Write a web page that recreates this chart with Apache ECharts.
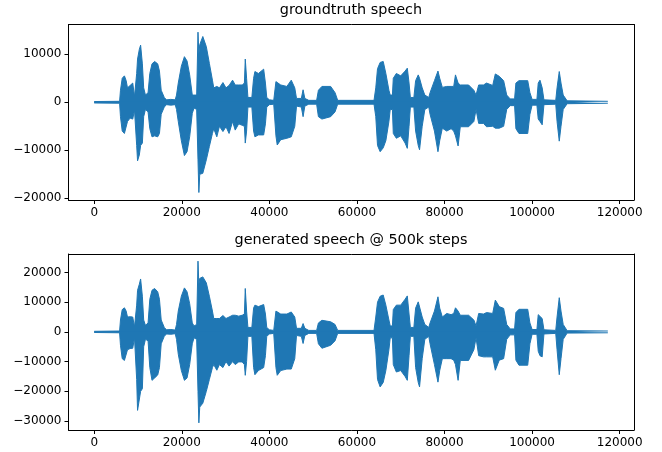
<!DOCTYPE html>
<html>
<head>
<meta charset="utf-8">
<script src="https://cdn.jsdelivr.net/npm/echarts@6/dist/echarts.min.js"></script>
<style>
  html, body { margin: 0; padding: 0; background: #fff; }
  #container { width: 662px; height: 452px; }
</style>
</head>
<body>
<div id="container"></div>
<script>
  var sampleX = [0, 5800, 6000, 6400, 6900, 7300, 7600, 8200, 8800, 9200, 9700, 9900, 10300, 10600, 11000, 11300, 11700, 12300, 12700, 13200, 13800, 14500, 14900, 15300, 16000, 16500, 17500, 18500, 18800, 19200, 19900, 20600, 21200, 21800, 22400, 22800, 23400, 23700, 23900, 24100, 24800, 25600, 26300, 27000, 27300, 28000, 28600, 29400, 30100, 30800, 31600, 32200, 33000, 33800, 34300, 34500, 34800, 35100, 36000, 36400, 36700, 37500, 38700, 39100, 39400, 40000, 41000, 41500, 41800, 42600, 44000, 45000, 45800, 46200, 47300, 47700, 48100, 49000, 50800, 51200, 52000, 54000, 55000, 55600, 63900, 64300, 64700, 65300, 66000, 66600, 67300, 67600, 68100, 68300, 69000, 70000, 71000, 71500, 71900, 72200, 73000, 73400, 74000, 74300, 74900, 75500, 76400, 76700, 77700, 78500, 78900, 79500, 80500, 81500, 82100, 82500, 83100, 83600, 85500, 86700, 87200, 87800, 88900, 89600, 91000, 91600, 92500, 93500, 94200, 95000, 96000, 96300, 97000, 99000, 99500, 100000, 101100, 101400, 101800, 102300, 102700, 105400, 105700, 106200, 106600, 107100, 108000, 117300];

  // groundtruth: upper / lower envelope
  var gtHi = [150, 200, 2500, 5000, 5500, 4500, 3000, 3500, 4000, 1200, 6000, 9000, 11000, 11900, 8000, 3000, 1500, 2000, 6000, 8000, 8500, 8000, 6500, 2500, 1000, 500, 600, 500, 1500, 4000, 7500, 9500, 8600, 5700, 1500, 1200, 1500, 14600, 10000, 12000, 13700, 11600, 8100, 4600, 3000, 3300, 3000, 4100, 3000, 3500, 4600, 3600, 3600, 3600, 4000, 9000, 5000, 1000, 1000, 5000, 6400, 6000, 6900, 4000, 1000, 500, 400, 4300, 4000, 3600, 3300, 4600, 3000, 800, 800, 2600, 800, 400, 400, 2500, 3300, 3300, 2000, 400, 400, 3000, 7000, 8300, 8500, 6000, 2500, 1500, 1500, 5000, 6000, 5500, 6500, 7100, 4000, 1000, 1000, 4500, 5700, 5000, 3000, 1500, 1000, 2000, 4500, 6500, 5000, 3100, 3300, 3300, 3300, 5700, 4000, 3600, 3600, 2500, 1500, 3600, 3600, 4000, 3500, 5900, 5400, 4500, 1500, 700, 700, 4000, 4500, 4500, 2000, 600, 600, 4000, 4600, 3000, 500, 400, 3000, 6400, 4000, 1500, 300, 200];
  var gtLo = [-150, -200, -3000, -6000, -6500, -6800, -4000, -3300, -3500, -1600, -9000, -12200, -11000, -9000, -8500, -3000, -1500, -2000, -5500, -7200, -7000, -7200, -6500, -2500, -1000, -500, -600, -500, -1500, -4000, -8000, -11100, -10300, -7200, -2300, -1200, -1500, -12000, -18800, -15000, -14800, -12000, -9200, -6500, -5500, -7200, -5000, -6100, -5100, -6500, -4000, -5800, -4500, -4800, -5000, -8500, -6000, -1000, -1000, -6000, -7200, -6800, -6800, -4500, -1000, -500, -400, -7000, -8900, -7800, -7500, -7200, -5000, -800, -1000, -3000, -800, -400, -400, -3000, -3500, -3000, -2000, -400, -400, -3000, -9000, -10300, -9500, -8000, -4000, -1500, -1500, -6500, -7500, -7000, -8500, -9600, -5000, -1000, -1000, -6000, -9000, -9900, -5000, -1500, -1000, -2500, -6000, -10300, -8000, -5400, -6000, -5500, -6000, -7000, -9100, -5100, -5100, -4000, -1500, -4400, -4400, -5100, -5000, -5400, -5400, -5000, -1500, -700, -700, -5500, -6500, -6500, -2500, -600, -600, -3500, -4000, -4700, -500, -400, -4000, -8100, -5000, -1500, -300, -200];

  // generated @ 500k steps: upper / lower envelope
  var genHi = [200, 300, 4000, 7500, 8100, 7000, 5000, 5100, 5000, 1700, 9000, 14000, 16000, 17800, 12000, 4000, 2200, 3000, 11000, 14000, 14600, 13500, 11000, 4000, 1500, 700, 800, 600, 2500, 7000, 12000, 14800, 13500, 9500, 3000, 2000, 2500, 23800, 16000, 18000, 18500, 16500, 12000, 7000, 4500, 4500, 4500, 5500, 4500, 5000, 5600, 5600, 5300, 5600, 6000, 14600, 7000, 1500, 1500, 8000, 9000, 8500, 9200, 6000, 1500, 700, 500, 7000, 6500, 6000, 6000, 6700, 5000, 1200, 1200, 2800, 1200, 500, 500, 3000, 3900, 3400, 2500, 500, 500, 5000, 10000, 12000, 12400, 9000, 4000, 2000, 2000, 7500, 9000, 9000, 11000, 12100, 6000, 1500, 1500, 8000, 10100, 9500, 5000, 2500, 1500, 3000, 7000, 11800, 8000, 5000, 6200, 5800, 6200, 8100, 7000, 5600, 5600, 4000, 2000, 6200, 6000, 6500, 6200, 10700, 8500, 7900, 2500, 1000, 1000, 6500, 7600, 7600, 3000, 800, 800, 5800, 5800, 4500, 700, 500, 5000, 11500, 7000, 2500, 400, 300];
  var genLo = [-200, -300, -4500, -9000, -9600, -9500, -6000, -5600, -5500, -2000, -16000, -26400, -26000, -20000, -19100, -5000, -2500, -3000, -12000, -16300, -15500, -14500, -12000, -4000, -1500, -700, -800, -600, -2500, -7500, -13000, -16300, -15500, -11000, -4000, -2000, -2500, -20000, -30600, -25300, -24000, -20000, -16000, -12000, -11000, -12900, -11000, -12000, -10000, -11500, -10000, -11000, -10100, -10100, -11000, -14600, -10000, -1500, -1500, -12000, -14400, -13000, -12000, -8000, -1500, -700, -500, -12000, -14600, -13000, -12500, -12500, -9000, -1200, -1500, -3900, -1200, -500, -500, -4000, -5500, -4500, -3000, -500, -500, -6000, -16000, -18500, -17000, -13000, -6000, -2000, -2000, -11000, -13500, -13000, -15000, -16300, -8000, -1500, -1500, -12000, -17000, -18500, -9000, -2500, -1500, -4000, -11000, -16900, -13000, -9000, -9000, -9000, -9500, -11000, -16300, -9600, -9600, -6000, -2000, -8000, -8400, -8400, -8400, -12900, -9500, -9000, -2500, -1000, -1000, -9500, -11200, -11200, -4000, -800, -800, -6500, -8000, -8400, -700, -500, -6000, -14400, -9000, -2500, -400, -300];

  var xTicks = [0, 20000, 40000, 60000, 80000, 100000, 120000];
  var gtTicks = [-20000, -10000, 0, 10000];
  var genTicks = [-30000, -20000, -10000, 0, 10000, 20000];

  var blue = '#1f77b4';
  var font = 'DejaVu Sans';
  var xMin = -5870, xMax = 123270;

  function pairs(xs, ys) {
      return xs.map(function (x, i) { return [x, ys[i]]; });
  }

  function plain(v) {
      return String(v).replace('-', '\u2212');
  }

  // upper and lower fills overlap a little across zero so no seam shows
  function envSeries(name, idx, ys, origin) {
      return {
          name: name,
          type: 'line',
          xAxisIndex: idx,
          yAxisIndex: idx,
          data: pairs(sampleX, ys),
          symbol: 'none',
          lineStyle: { color: blue, width: 1 },
          areaStyle: { color: blue, opacity: 1, origin: origin },
          silent: true
      };
  }

  function xAxisFor(idx) {
      return {
          gridIndex: idx,
          type: 'value',
          min: xMin,
          max: xMax,
          splitLine: { show: false },
          axisLine: { show: true, onZero: false, lineStyle: { color: '#000' } },
          axisTick: { show: true, length: 4, customValues: xTicks, lineStyle: { color: '#000' } },
          axisLabel: { customValues: xTicks, color: '#000', fontFamily: font, fontSize: 12, margin: 7, formatter: plain }
      };
  }

  function yAxisFor(idx, lo, hi, ticks) {
      return {
          gridIndex: idx,
          type: 'value',
          min: lo,
          max: hi,
          splitLine: { show: false },
          axisLine: { show: true, onZero: false, lineStyle: { color: '#000' } },
          axisTick: { show: true, length: 4, customValues: ticks, lineStyle: { color: '#000' } },
          axisLabel: { customValues: ticks, color: '#000', fontFamily: font, fontSize: 12, margin: 7, formatter: plain }
      };
  }

  // frame edges: plain lines on top / right
  function edgeX(idx) {
      return {
          gridIndex: idx, type: 'value', position: 'top', min: xMin, max: xMax,
          axisLine: { show: true, onZero: false, lineStyle: { color: '#000' } },
          axisTick: { show: false }, axisLabel: { show: false }, splitLine: { show: false }
      };
  }
  function edgeY(idx, lo, hi) {
      return {
          gridIndex: idx, type: 'value', position: 'right', min: lo, max: hi,
          axisLine: { show: true, onZero: false, lineStyle: { color: '#000' } },
          axisTick: { show: false }, axisLabel: { show: false }, splitLine: { show: false }
      };
  }

  var dom = document.getElementById('container');
  var myChart = echarts.init(dom, null, { renderer: 'canvas' });

  var option = {
      animation: false,
      backgroundColor: '#fff',
      title: [{
              text: 'groundtruth speech',
              left: 351,
              top: 3,
              textAlign: 'center',
              padding: 0,
              textStyle: { color: '#000', fontFamily: font, fontSize: 14.4, fontWeight: 'normal' }
          },
          {
              text: 'generated speech @ 500k steps',
              left: 351,
              top: 233,
              textAlign: 'center',
              padding: 0,
              textStyle: { color: '#000', fontFamily: font, fontSize: 14.4, fontWeight: 'normal' }
          }
      ],
      grid: [
          { left: 68.5, right: 28, top: 24.5, height: 175.5 },
          { left: 68.5, right: 28, top: 254, height: 176 }
      ],
      xAxis: [xAxisFor(0), xAxisFor(1), edgeX(0), edgeX(1)],
      yAxis: [
          yAxisFor(0, -20360, 16200, gtTicks),
          yAxisFor(1, -33000, 26200, genTicks),
          edgeY(0, -20360, 16200),
          edgeY(1, -33000, 26200)
      ],
      series: [
          envSeries('groundtruth hi', 0, gtHi, -100),
          envSeries('groundtruth lo', 0, gtLo, 100),
          envSeries('generated hi', 1, genHi, -150),
          envSeries('generated lo', 1, genLo, 150)
      ]
  };

  myChart.setOption(option, true);
</script>
</body>
</html>
